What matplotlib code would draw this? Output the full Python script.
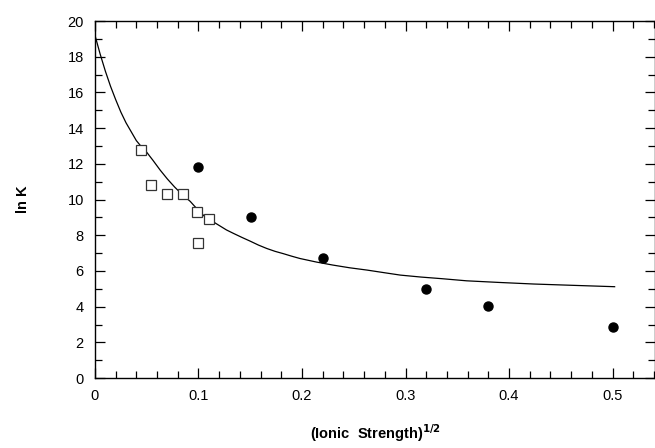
import matplotlib
matplotlib.use("Agg")
import matplotlib.pyplot as plt
import numpy as np
from matplotlib.ticker import MultipleLocator

# open squares
sq_x = [0.044, 0.054, 0.070, 0.085, 0.099, 0.110, 0.100]
sq_y = [12.75, 10.8, 10.3, 10.3, 9.3, 8.9, 7.55]

# filled circles
ci_x = [0.100, 0.151, 0.220, 0.320, 0.380, 0.500]
ci_y = [11.8, 9.0, 6.7, 5.0, 4.05, 2.87]

# fitted curve
cv_x = [0.0, 0.005, 0.010, 0.015, 0.020, 0.025, 0.030, 0.035, 0.040, 0.045, 0.050, 0.056,
        0.063, 0.070, 0.077, 0.084, 0.092, 0.099, 0.106, 0.113, 0.120, 0.127, 0.134, 0.142,
        0.150, 0.158, 0.166, 0.174, 0.182, 0.190, 0.198, 0.214, 0.230, 0.246, 0.263, 0.280,
        0.295, 0.315, 0.335, 0.359, 0.390, 0.424, 0.460, 0.502]
cv_y = [19.2, 18.15, 17.2, 16.35, 15.6, 14.9, 14.3, 13.8, 13.3, 12.95, 12.65, 12.2,
        11.65, 11.15, 10.7, 10.3, 9.9, 9.45, 9.05, 8.8, 8.55, 8.3, 8.1, 7.88,
        7.67, 7.45, 7.26, 7.1, 6.97, 6.83, 6.7, 6.5, 6.33, 6.18, 6.05, 5.9,
        5.77, 5.66, 5.57, 5.45, 5.36, 5.27, 5.2, 5.12]

plt.rcParams['font.family'] = ['Liberation Sans', 'DejaVu Sans']

fig = plt.figure(figsize=(6.55, 4.48), dpi=100)
ax = fig.add_axes([0.145, 0.156, 0.855, 0.797])

ax.plot(cv_x, cv_y, color='black', lw=0.9)
ax.plot(sq_x, sq_y, 's', ms=7, mfc='white', mec='#333333', mew=0.9, ls='none')
ax.plot(ci_x, ci_y, 'o', ms=6.5, color='black', ls='none')

ax.set_xlim(0, 0.541)
ax.set_ylim(0, 20)
ax.xaxis.set_major_locator(MultipleLocator(0.1))
ax.xaxis.set_minor_locator(MultipleLocator(0.02))
ax.yaxis.set_major_locator(MultipleLocator(2))
ax.yaxis.set_minor_locator(MultipleLocator(1))
ax.set_xticks([0, 0.1, 0.2, 0.3, 0.4, 0.5])
ax.set_xticklabels(['0', '0.1', '0.2', '0.3', '0.4', '0.5'])

ax.tick_params(which='both', direction='in', top=True, right=True, labelsize=10.5, width=0.9)
ax.tick_params(which='major', length=7, pad=8)
ax.tick_params(which='minor', length=5)
for s in ax.spines.values():
    s.set_linewidth(1.0)

ax.set_ylabel('ln K', fontweight='bold', fontsize=10.5, labelpad=27)
ax.set_xlabel('(Ionic  Strength)$^{\\mathbf{1/2}}$', fontweight='bold', fontsize=10.5, labelpad=14)

fig.savefig('out.png', dpi=100)
